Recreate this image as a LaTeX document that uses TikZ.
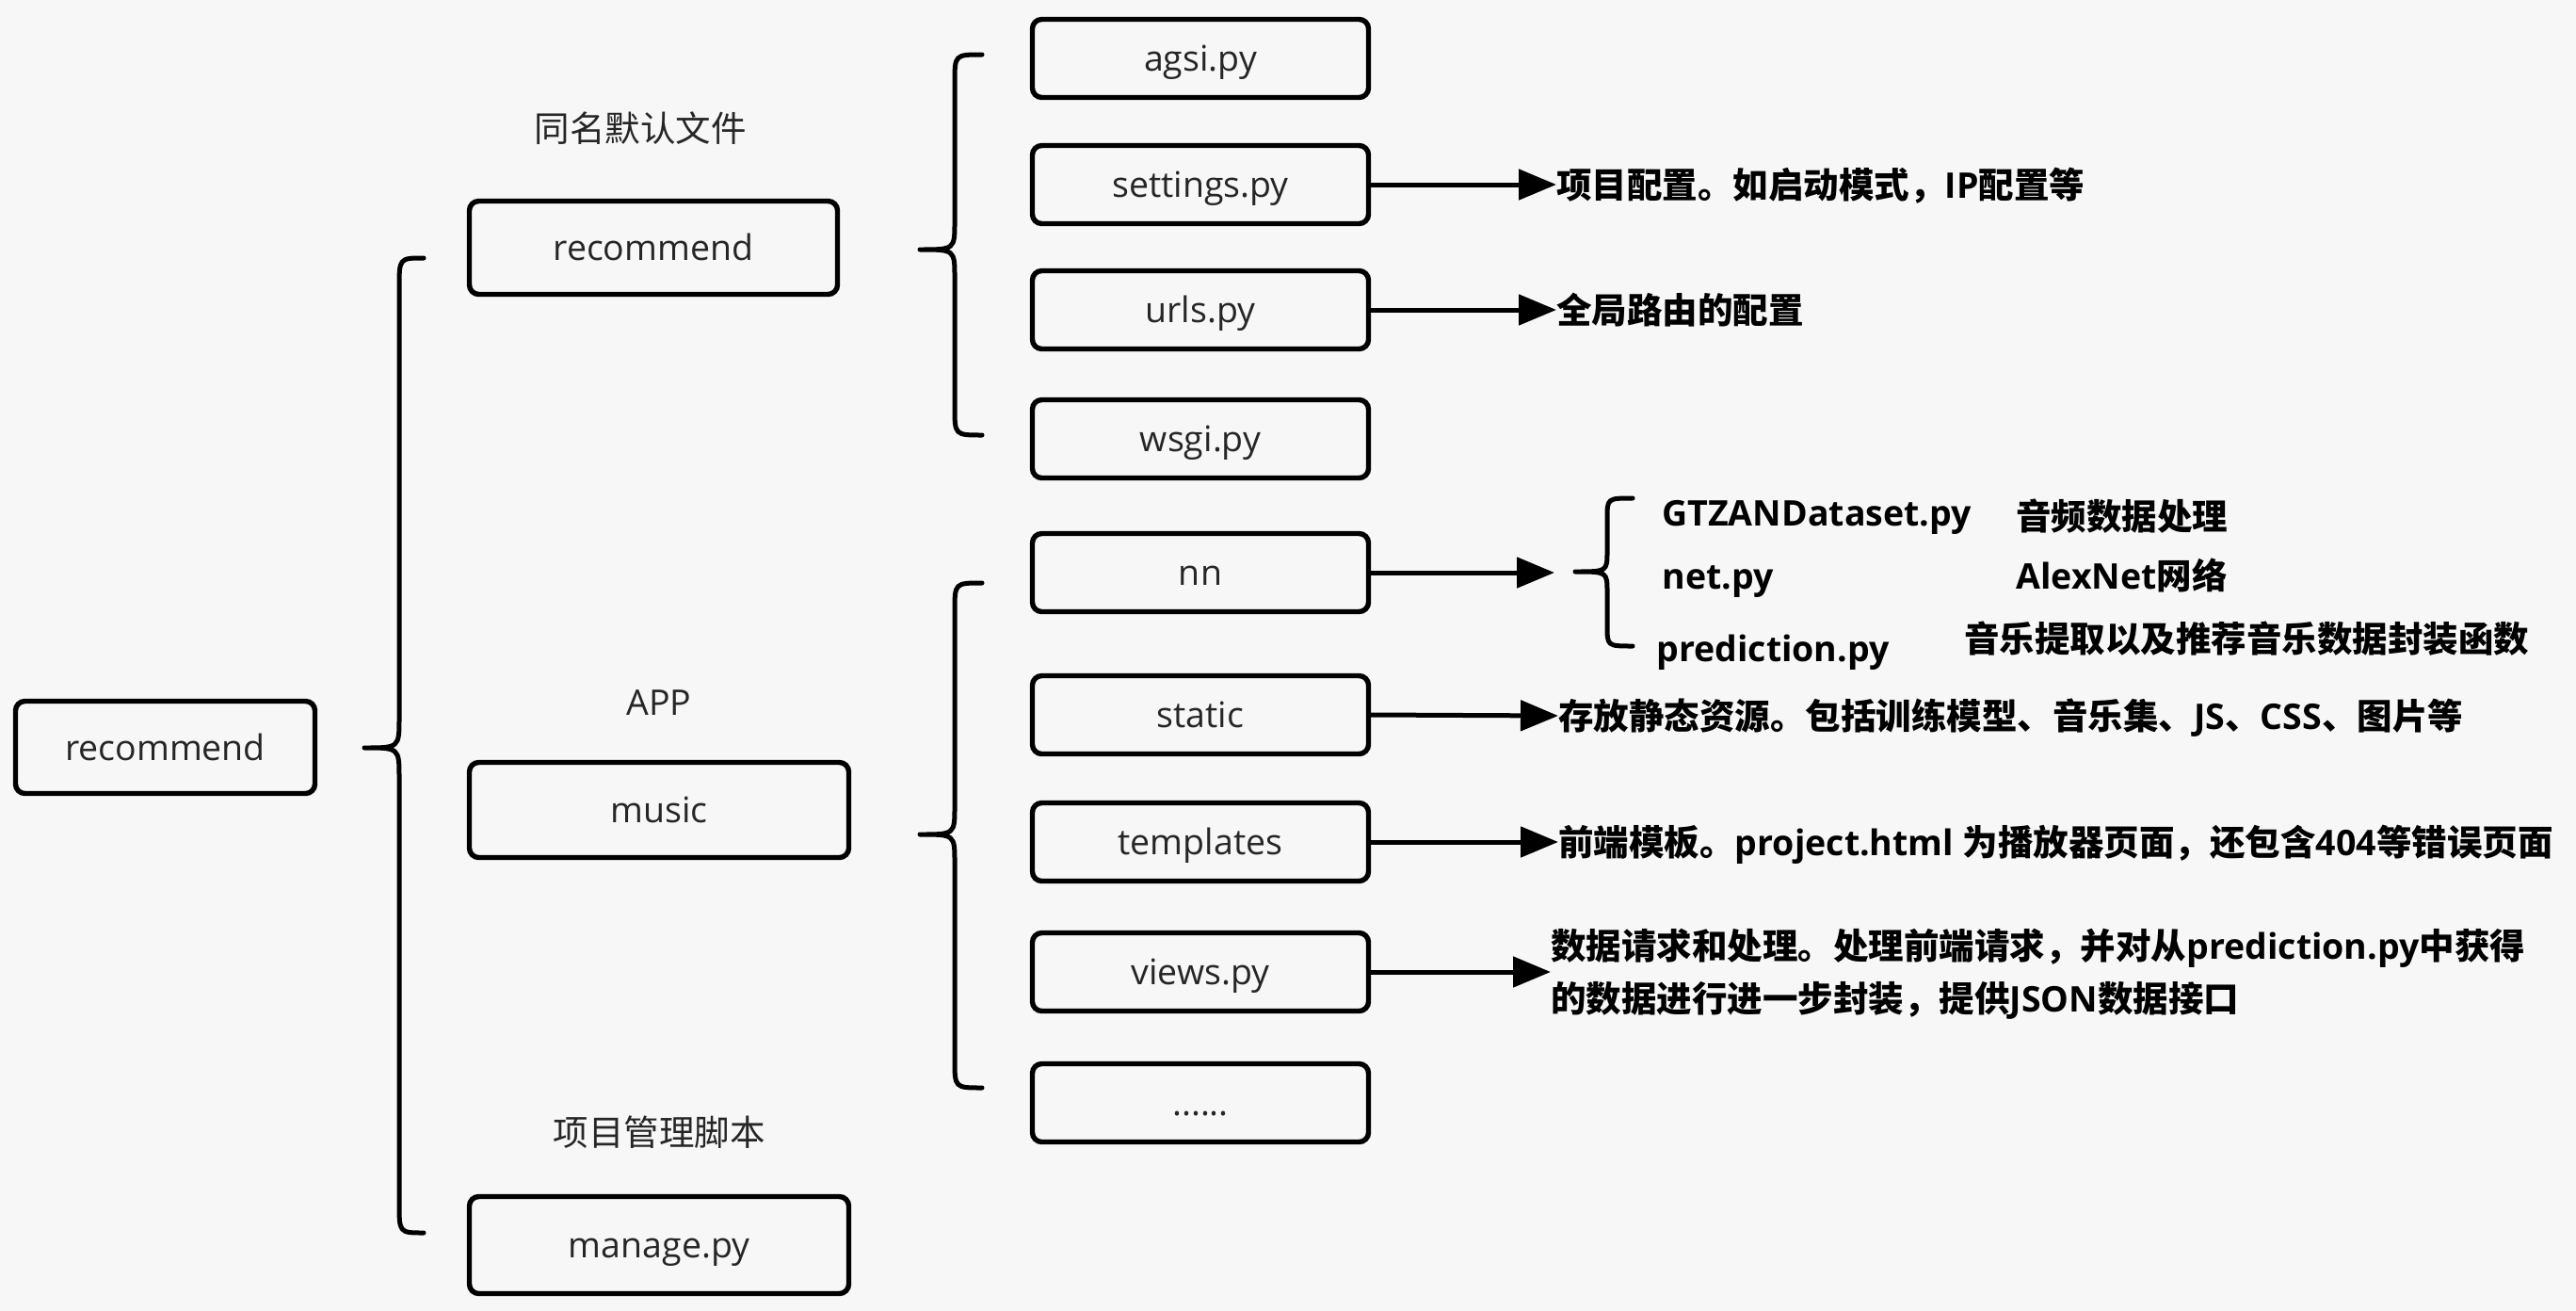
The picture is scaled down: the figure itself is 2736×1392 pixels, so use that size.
\documentclass[tikz,border=0pt]{standalone}
\usepackage{fontspec}
\setmainfont{Open Sans}
\newfontfamily\cjk{Noto Sans CJK SC}
\usetikzlibrary{arrows.meta}
\newcommand\zh[1]{{\cjk #1}}
\newcommand\mybrace[7]{%
  \draw[brace] (#1,#4) .. controls (#2,#4) .. (#2,{#4+#7}) -- (#2,{#5-#7})
    .. controls (#2,#5) .. (#3,#5) .. controls (#2,#5) .. (#2,{#5+#7})
    -- (#2,{#6-#7}) .. controls (#2,#6) .. (#1,#6);}
\definecolor{bgc}{HTML}{F7F7F7}
\definecolor{boxtext}{HTML}{262626}
\begin{document}
\begin{tikzpicture}[x=0.5pt,y=-0.5pt,
  every node/.style={font=\fontsize{18.75pt}{28pt}\selectfont},
  box/.style={draw=black, line width=2.7pt, rounded corners=5pt, inner sep=0pt, text=boxtext,
     text height=14pt, text depth=0.2pt},
  fbox/.style={box, minimum width=178.5pt, minimum height=41.5pt},
  note/.style={anchor=west, inner sep=0pt, text height=14pt, text depth=0pt,
     font=\fontsize{18.75pt}{28pt}\selectfont\bfseries},
  note2/.style={anchor=west, inner sep=0pt, align=left,
     font=\fontsize{18.75pt}{28pt}\selectfont\bfseries},
  lbl/.style={inner sep=0pt, text=boxtext, text height=14pt, text depth=0pt},
  brace/.style={line width=2.5pt, line cap=round, line join=round},
  arr/.style={line width=2.5pt, -{Triangle[length=20pt, width=16pt]}}]
\fill[bgc] (0,0) rectangle (2736,1392);
\useasboundingbox (0,0) rectangle (2736,1392);

% left level
\node[box, minimum width=159pt, minimum height=49pt] (root) at (175.5,793.5) {recommend};
\node[box, minimum width=195.5pt, minimum height=49.5pt] (rec) at (694,263) {recommend};
\node[box, minimum width=201.5pt, minimum height=50.5pt] (music) at (700,860) {music};
\node[box, minimum width=201.5pt, minimum height=51.5pt] (manage) at (700,1322) {manage.py};
\node[lbl] (l1) at (680,136) {\zh{同名默认文件}};
\node[lbl] (l2) at (700,745) {APP};
\node[lbl] (l3) at (700,1202) {\zh{项目管理脚本}};

% big brace
\mybrace{450}{424}{387}{274}{794}{1309}{32}

% file boxes
\node[fbox] (agsi) at (1275,62) {agsi.py};
\node[fbox] (settings) at (1275,196) {settings.py};
\node[fbox] (urls) at (1275,329) {urls.py};
\node[fbox] (wsgi) at (1275,466) {wsgi.py};
\node[fbox] (nn) at (1275,608) {nn};
\node[fbox] (static) at (1275,759) {static};
\node[fbox] (templates) at (1275,894) {templates};
\node[fbox] (views) at (1275,1032) {views.py};
\node[fbox] (dots) at (1275,1171) {......};

% group braces
\mybrace{1043}{1014}{977}{58}{265}{462}{30}
\mybrace{1043}{1014}{977}{619}{886}{1155}{30}

% annotations
\node[note] (tsettings) at (1653,196) {\zh{项目配置。如启动模式，}IP\zh{配置等}};
\node[note] (turls) at (1653,329) {\zh{全局路由的配置}};
\node[note] (tstatic) at (1655,760) {\zh{存放静态资源。包括训练模型、音乐集、}JS\zh{、}CSS\zh{、图片等}};
\node[note] (ttemplates) at (1655,894) {\zh{前端模板。}project.html \zh{为播放器页面，还包含}404\zh{等错误页面}};
\node[note2] (tviews) at (1647,1034) {\zh{数据请求和处理。处理前端请求，并对从}prediction.py\zh{中获得}\\\zh{的数据进行进一步封装，提供}JSON\zh{数据接口}};

\draw[arr] (settings.east) -- (tsettings.west);
\draw[arr] (urls.east) -- (turls.west);
\draw[arr] (static.east) -- (tstatic.west);
\draw[arr] (templates.east) -- (ttemplates.west);
\draw[arr] (views.east) -- (views.east -| tviews.west);

% nn sub-items
\coordinate (nntip) at (1651,608);
\draw[arr] (nn.east) -- (nntip);
\mybrace{1734}{1707}{1673}{529}{607}{686}{22}
\node[note] (gtzan) at (1765,544) {GTZANDataset.py};
\node[note] (net) at (1765,611) {net.py};
\node[note] (pred) at (1759,688) {prediction.py};
\node[note] (dgtzan) at (2141,548) {\zh{音频数据处理}};
\node[note] (dnet) at (2141,611) {AlexNet\zh{网络}};
\node[note] (dpred) at (2086,678) {\zh{音乐提取以及推荐音乐数据封装函数}};
\end{tikzpicture}
\end{document}
